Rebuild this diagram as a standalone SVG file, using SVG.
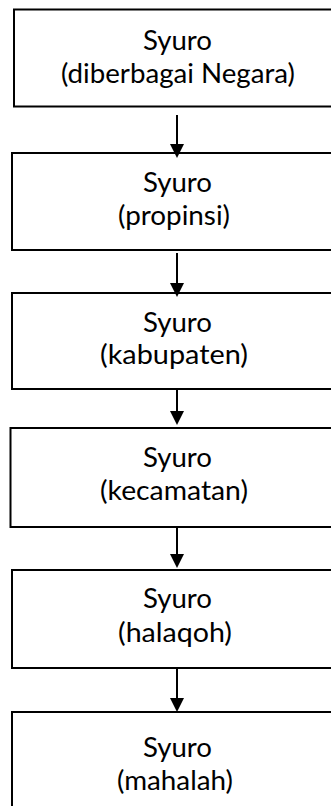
<svg xmlns="http://www.w3.org/2000/svg" width="331" height="806" viewBox="0 0 331 806">
  <style>
    .box { fill: #ffffff; stroke: #000000; stroke-width: 2; }
    .lbl { font-family: "Lato", "Open Sans", "Liberation Sans", sans-serif; font-size: 26px; fill: #000000; text-anchor: middle; }
    .conn { stroke: #000000; stroke-width: 2; fill: none; }
  </style>
  <defs>
    <marker id="arrow" markerUnits="userSpaceOnUse" markerWidth="14" markerHeight="14" refX="2" refY="7" orient="auto">
      <path d="M0,0 L14,7 L0,14 z" fill="#000000"/>
    </marker>
  </defs>
  <rect width="331" height="806" fill="#ffffff"/>

  <g id="syuro-negara">
    <rect class="box" x="14" y="9.5" width="326" height="97"/>
    <text class="lbl" x="177.5" y="50" textLength="69" lengthAdjust="spacingAndGlyphs">Syuro</text>
    <text class="lbl" x="178" y="83" textLength="234" lengthAdjust="spacingAndGlyphs">(diberbagai Negara)</text>
  </g>

  <g id="syuro-propinsi">
    <rect class="box" x="12" y="153" width="330" height="97"/>
    <text class="lbl" x="177.5" y="192" textLength="69" lengthAdjust="spacingAndGlyphs">Syuro</text>
    <text class="lbl" x="174" y="225" textLength="112" lengthAdjust="spacingAndGlyphs">(propinsi)</text>
  </g>

  <g id="syuro-kabupaten">
    <rect class="box" x="12" y="293" width="330" height="96"/>
    <text class="lbl" x="177.5" y="332" textLength="69" lengthAdjust="spacingAndGlyphs">Syuro</text>
    <text class="lbl" x="174" y="364" textLength="148" lengthAdjust="spacingAndGlyphs">(kabupaten)</text>
  </g>

  <g id="syuro-kecamatan">
    <rect class="box" x="10.5" y="428" width="331" height="99"/>
    <text class="lbl" x="177.5" y="467" textLength="69" lengthAdjust="spacingAndGlyphs">Syuro</text>
    <text class="lbl" x="174" y="500" textLength="148" lengthAdjust="spacingAndGlyphs">(kecamatan)</text>
  </g>

  <g id="syuro-halaqoh">
    <rect class="box" x="12" y="570" width="330" height="98"/>
    <text class="lbl" x="177.5" y="608" textLength="69" lengthAdjust="spacingAndGlyphs">Syuro</text>
    <text class="lbl" x="175" y="642" textLength="114" lengthAdjust="spacingAndGlyphs">(halaqoh)</text>
  </g>

  <g id="syuro-mahalah">
    <rect class="box" x="12" y="712" width="330" height="120"/>
    <text class="lbl" x="177.5" y="757" textLength="69" lengthAdjust="spacingAndGlyphs">Syuro</text>
    <text class="lbl" x="175" y="790" textLength="116" lengthAdjust="spacingAndGlyphs">(mahalah)</text>
  </g>

  <g id="connectors">
    <line class="conn" x1="177" y1="115" x2="177" y2="146" marker-end="url(#arrow)"/>
    <line class="conn" x1="177" y1="253" x2="177" y2="285" marker-end="url(#arrow)"/>
    <line class="conn" x1="177" y1="389" x2="177" y2="413" marker-end="url(#arrow)"/>
    <line class="conn" x1="177" y1="527" x2="177" y2="556" marker-end="url(#arrow)"/>
    <line class="conn" x1="177" y1="668" x2="177" y2="700" marker-end="url(#arrow)"/>
  </g>
</svg>
